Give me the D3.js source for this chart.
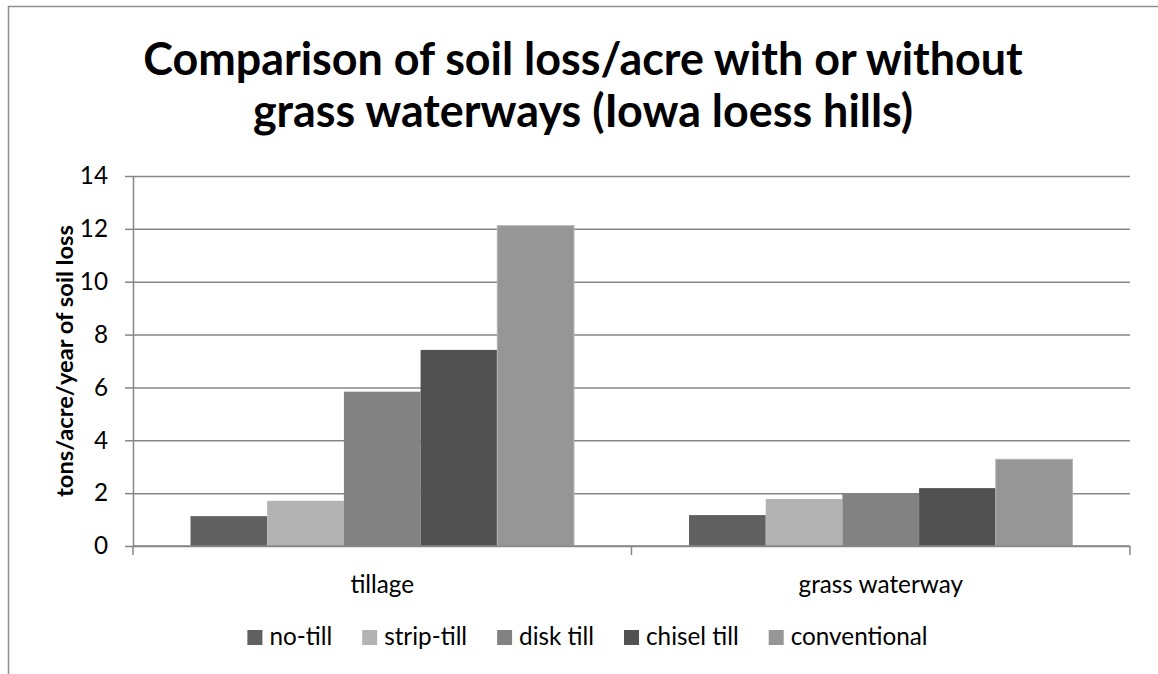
<!DOCTYPE html>
<html>
<head>
<meta charset="utf-8">
<script src="https://cdn.jsdelivr.net/npm/d3@7"></script>
<style>
  html, body { margin: 0; padding: 0; background: #fff; }
  svg { display: block; }
</style>
</head>
<body>
<svg id="chart" width="1158" height="674"></svg>
<script>
const categories = ['tillage', 'grass waterway'];
const seriesNames = ['no-till', 'strip-till', 'disk till', 'chisel till', 'conventional'];
const seriesColors = ['#606060', '#b3b3b3', '#828282', '#515151', '#969696'];
// tons/acre/year, one row per category, in series order
const tillageValues = [1.13, 1.71, 5.84, 7.42, 12.12];
const waterwayValues = [1.17, 1.78, 2.0, 2.19, 3.28];
const yTicks = [0, 2, 4, 6, 8, 10, 12, 14];
const titleLines = ['Comparison of soil loss/acre with or without', 'grass waterways (Iowa loess hills)'];
const yLabel = 'tons/acre/year of soil loss';

const data = categories.map((c, i) => ({
    category: c,
    values: (i === 0 ? tillageValues : waterwayValues).map((v, j) => ({ series: seriesNames[j], value: v }))
}));

const FONT = 'Lato, "Open Sans", sans-serif';
const svg = d3.select('#chart');

// pick a font size so that a string gets the width it has in the picture
function fitSize(text, weight, target) {
    const t = svg.append('text').attr('font-family', FONT).attr('font-weight', weight)
        .attr('font-size', 100).text(text);
    const w = t.node().getComputedTextLength();
    t.remove();
    return 100 * target / w;
}
const titleSize = fitSize(titleLines[0], 700, 880);
const bodySize = fitSize('conventional', 400, 137);
const yLabelSize = fitSize(yLabel, 700, 272);

const margin = { top: 176, left: 133, right: 28, bottom: 128 };
const width = 1158 - margin.left - margin.right;
const height = 674 - margin.top - margin.bottom;

// frame (top and left edges only are visible)
svg.append('path')
    .attr('d', 'M8.5,674V6.5H1158')
    .attr('fill', 'none')
    .attr('stroke', '#8f8f8f')
    .attr('stroke-width', 1.5);

// title
svg.append('text')
    .attr('font-family', FONT)
    .attr('font-weight', 700)
    .attr('font-size', titleSize)
    .attr('text-anchor', 'middle')
    .selectAll('tspan')
    .data(titleLines)
    .join('tspan')
    .attr('x', 583)
    .attr('y', (d, i) => 75 + i * 52)
    .text(d => d);

const g = svg.append('g').attr('transform', `translate(${margin.left},${margin.top})`);

const x0 = d3.scaleBand().domain(categories).range([0, width]).padding(0);
const x1 = d3.scaleBand().domain(seriesNames).range([0, x0.bandwidth()]).paddingInner(0).paddingOuter(0.75);
const y = d3.scaleLinear().domain([0, 14]).range([height, 0]);
const color = d3.scaleOrdinal().domain(seriesNames).range(seriesColors);

// gridlines
g.append('g')
    .attr('class', 'grid')
    .call(d3.axisLeft(y).tickValues(yTicks).tickSize(-width).tickFormat(''))
    .call(a => a.select('.domain').remove())
    .selectAll('line')
    .attr('stroke', '#868686')
    .attr('stroke-width', 1.5);

// bars
g.selectAll('g.cat')
    .data(data)
    .join('g')
    .attr('class', 'cat')
    .attr('transform', d => `translate(${x0(d.category)},0)`)
    .selectAll('rect')
    .data(d => d.values)
    .join('rect')
    .attr('x', d => x1(d.series))
    .attr('width', x1.bandwidth())
    .attr('y', d => y(d.value))
    .attr('height', d => height - y(d.value))
    .attr('fill', d => color(d.series))
    .attr('stroke', d => d.series === 'conventional' ? '#b4b4b4' : 'none')
    .attr('stroke-width', 1);

// y axis
const yAxis = g.append('g')
    .call(d3.axisLeft(y).tickValues(yTicks).tickSize(8).tickPadding(17).tickSizeOuter(0));
yAxis.select('.domain').attr('stroke', '#868686').attr('stroke-width', 1.5);
yAxis.selectAll('line').attr('stroke', '#868686').attr('stroke-width', 1.5);
yAxis.selectAll('text')
    .attr('font-family', FONT)
    .attr('font-size', bodySize)
    .attr('fill', '#000');

// x axis: ticks sit on the category boundaries
const bounds = [0, ...categories.map(c => x0(c) + x0.bandwidth())];
const xAxis = g.append('g').attr('transform', `translate(0,${height})`);
xAxis.append('line')
    .attr('x1', 0).attr('x2', width)
    .attr('stroke', '#868686').attr('stroke-width', 1.5);
xAxis.selectAll('line.tick')
    .data(bounds)
    .join('line')
    .attr('class', 'tick')
    .attr('x1', d => d).attr('x2', d => d)
    .attr('y1', 0).attr('y2', 9)
    .attr('stroke', '#868686').attr('stroke-width', 1.5);
xAxis.selectAll('text')
    .data(categories)
    .join('text')
    .attr('x', d => x0(d) + x0.bandwidth() / 2)
    .attr('y', 47)
    .attr('text-anchor', 'middle')
    .attr('font-family', FONT)
    .attr('font-size', bodySize)
    .text(d => d);

// y axis title
svg.append('text')
    .attr('transform', `translate(73,${margin.top + height / 2}) rotate(-90)`)
    .attr('text-anchor', 'middle')
    .attr('font-family', FONT)
    .attr('font-weight', 700)
    .attr('font-size', yLabelSize)
    .text(yLabel);

// legend, laid out left to right and centred under the chart
const legend = svg.append('g');
let lx = 0;
const items = seriesNames.map(s => {
    const t = legend.append('text')
        .attr('font-family', FONT)
        .attr('font-size', bodySize)
        .attr('y', 645)
        .text(s);
    const w = t.node().getComputedTextLength();
    const item = { s, t, x: lx };
    lx += 15 + 7 + w + 30;
    return item;
});
const legendWidth = lx - 30;
const legendLeft = 250 + (675 - legendWidth) / 2;
items.forEach(it => {
    legend.append('rect')
        .attr('x', legendLeft + it.x)
        .attr('y', 630)
        .attr('width', 15)
        .attr('height', 15)
        .attr('fill', color(it.s));
    it.t.attr('x', legendLeft + it.x + 22);
});
</script>
</body>
</html>
